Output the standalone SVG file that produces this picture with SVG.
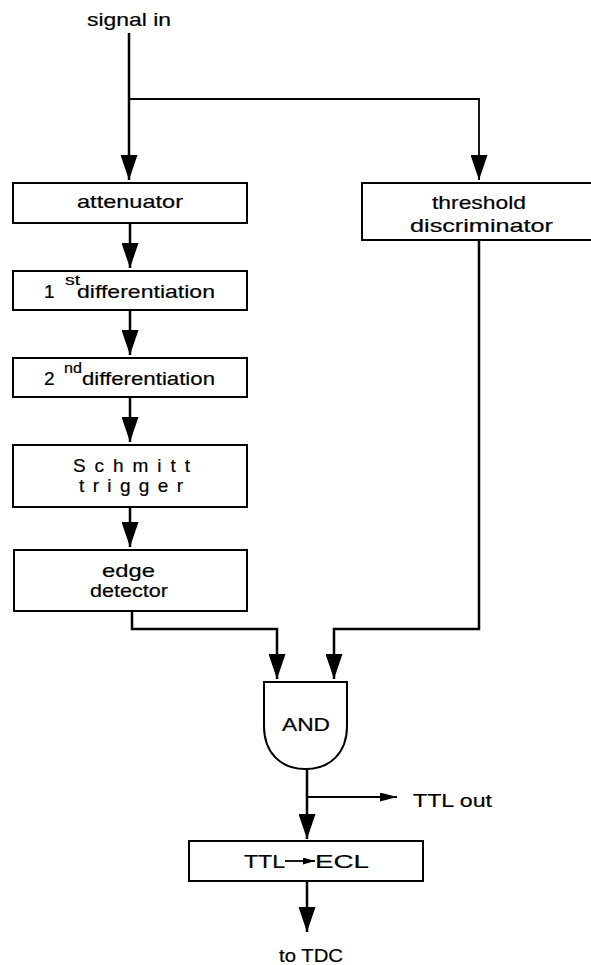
<svg xmlns="http://www.w3.org/2000/svg" width="591" height="965" viewBox="0 0 591 965">
<style>
.box{fill:#fff;stroke:#000;stroke-width:2}
.ln{fill:none;stroke:#000;stroke-width:2.5}
.thin{fill:none;stroke:#000;stroke-width:1.8}
text{font-family:"Liberation Sans",Arial,sans-serif;font-size:19px;fill:#000;stroke:#000;stroke-width:0.2}
.sup{font-size:14px}
</style>
<defs>
<marker id="ah" viewBox="0 0 25 17" refX="25" refY="8.5" markerWidth="25" markerHeight="17" markerUnits="userSpaceOnUse" orient="auto">
<path d="M0,0 L25,8.5 L0,17 Z" fill="#000"/>
</marker>
<marker id="ahs" viewBox="0 0 17 9" refX="17" refY="4.5" markerWidth="17" markerHeight="9" markerUnits="userSpaceOnUse" orient="auto">
<path d="M0,0 L17,4.5 L0,9 Z" fill="#000"/>
</marker>
<marker id="aht" viewBox="0 0 12 7" refX="12" refY="3.5" markerWidth="12" markerHeight="7" markerUnits="userSpaceOnUse" orient="auto">
<path d="M0,0 L12,3.5 L0,7 Z" fill="#000"/>
</marker>
</defs>

<g id="connectors">
<path class="ln" d="M129,33 V180" marker-end="url(#ah)"/>
<path class="thin" d="M129,99 H479 V180" marker-end="url(#ah)"/>
<path class="ln" d="M130,223 V268" marker-end="url(#ah)"/>
<path class="ln" d="M130,310 V355" marker-end="url(#ah)"/>
<path class="ln" d="M130,397 V442" marker-end="url(#ah)"/>
<path class="ln" d="M130,507 V547" marker-end="url(#ah)"/>
<path class="ln" d="M132,611 V629 H277 V679" marker-end="url(#ah)"/>
<path class="ln" d="M479,240 V629 H334 V679" marker-end="url(#ah)"/>
<path class="ln" d="M307,769 V839" marker-end="url(#ah)"/>
<path class="thin" d="M307,797 H397" marker-end="url(#ahs)"/>
<path class="ln" d="M307,881 V932" marker-end="url(#ah)"/>
</g>

<g id="signal-in"><text x="87" y="26" textLength="84" lengthAdjust="spacingAndGlyphs">signal in</text></g>

<g id="attenuator">
<rect class="box" x="13" y="183" width="234" height="40"/>
<text x="77" y="208" textLength="106" lengthAdjust="spacingAndGlyphs">attenuator</text>
</g>

<g id="threshold">
<rect class="box" x="362" y="183" width="233" height="57"/>
<text x="432" y="209" textLength="94" lengthAdjust="spacingAndGlyphs">threshold</text>
<text x="410" y="232" textLength="143" lengthAdjust="spacingAndGlyphs">discriminator</text>
</g>

<g id="diff1">
<rect class="box" x="13" y="271" width="234" height="39"/>
<text x="44" y="298">1</text>
<text class="sup" x="65" y="285" textLength="15" lengthAdjust="spacingAndGlyphs">st</text>
<text x="77" y="298" textLength="138" lengthAdjust="spacingAndGlyphs">differentiation</text>
</g>

<g id="diff2">
<rect class="box" x="13" y="358" width="234" height="39"/>
<text x="44" y="385">2</text>
<text class="sup" x="64" y="373" textLength="18" lengthAdjust="spacingAndGlyphs">nd</text>
<text x="82" y="385" textLength="133" lengthAdjust="spacingAndGlyphs">differentiation</text>
</g>

<g id="schmitt">
<rect class="box" x="13" y="445" width="234" height="62"/>
<text x="73" y="472" textLength="117">Schmitt</text>
<text x="79" y="492" textLength="104">trigger</text>
</g>

<g id="edge">
<rect class="box" x="14" y="550" width="233" height="61"/>
<text x="102" y="577" textLength="53" lengthAdjust="spacingAndGlyphs">edge</text>
<text x="90" y="597" textLength="78" lengthAdjust="spacingAndGlyphs">detector</text>
</g>

<g id="and">
<path class="box" d="M264,682 H347 V726 C347,753 330,769 305.5,769 C281,769 264,753 264,726 Z"/>
<text x="282" y="731" textLength="48" lengthAdjust="spacingAndGlyphs">AND</text>
</g>

<g id="ttl-out"><text x="413" y="807" textLength="79" lengthAdjust="spacingAndGlyphs">TTL out</text></g>

<g id="ttl-ecl">
<rect class="box" x="189" y="841" width="234" height="40"/>
<text x="244" y="868" textLength="41" lengthAdjust="spacingAndGlyphs">TTL</text>
<path class="thin" d="M285,861 H315" stroke-width="1.2" marker-end="url(#aht)"/>
<text x="315" y="868" textLength="54" lengthAdjust="spacingAndGlyphs">ECL</text>
</g>

<g id="to-tdc"><text x="279" y="962" textLength="64" lengthAdjust="spacingAndGlyphs">to TDC</text></g>
</svg>
